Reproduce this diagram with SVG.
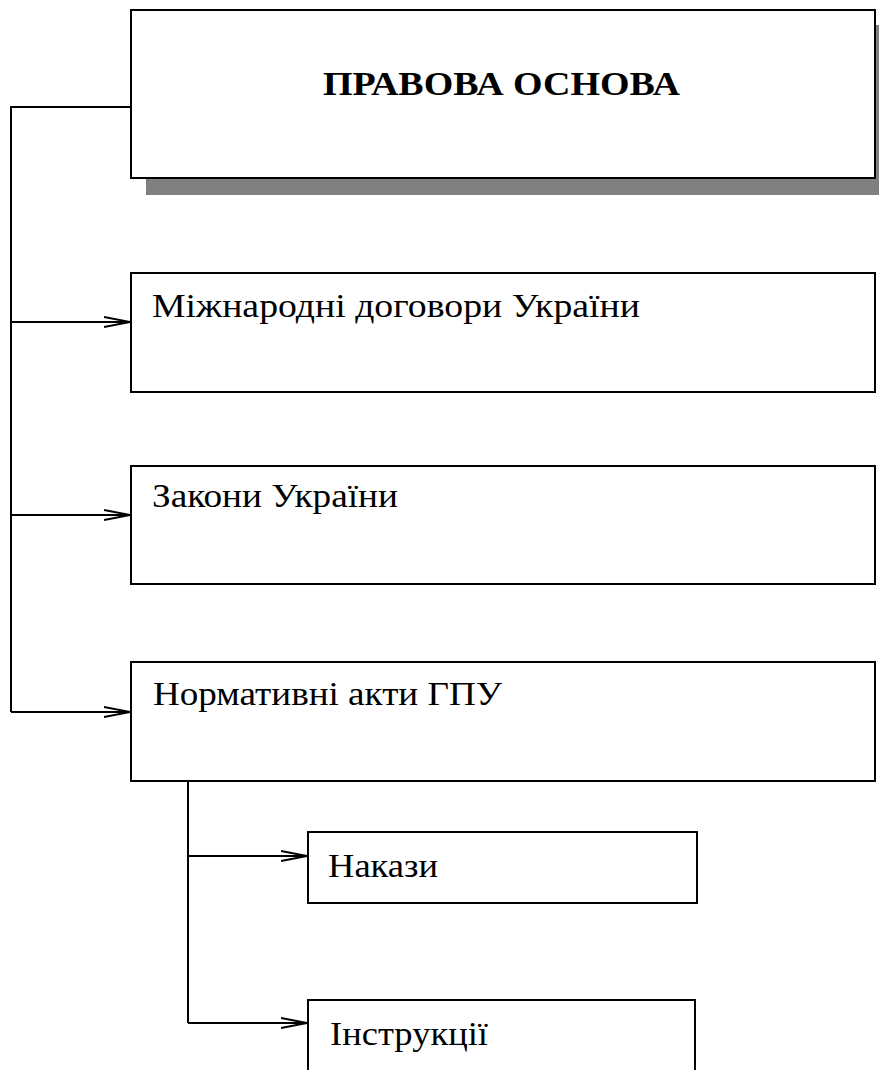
<svg xmlns="http://www.w3.org/2000/svg" width="879" height="1070" viewBox="0 0 879 1070">
<style>
.box{fill:#fff;stroke:#000;stroke-width:2}
.shadow{fill:#808080}
.lbl{font-family:"Liberation Serif","Times New Roman",serif;font-size:34px;fill:#000}
.title{font-family:"Liberation Serif","Times New Roman",serif;font-size:34px;font-weight:bold;fill:#000}
.conn{fill:none;stroke:#000;stroke-width:2}
</style>
<defs>
<marker id="arr" viewBox="0 0 26 12" refX="26" refY="6" markerWidth="26" markerHeight="12" markerUnits="userSpaceOnUse" orient="auto">
<path d="M0,1 L26,6 L0,11 M6,6 L26,6" fill="none" stroke="#000" stroke-width="2"/>
</marker>
</defs>
<rect width="879" height="1070" fill="#fff"/>
<g id="connectors">
<path class="conn" d="M131,107 H11 V712"/>
<path class="conn" d="M11,322 H130" marker-end="url(#arr)"/>
<path class="conn" d="M11,515 H130" marker-end="url(#arr)"/>
<path class="conn" d="M11,712 H130" marker-end="url(#arr)"/>
<path class="conn" d="M188,781 V1023"/>
<path class="conn" d="M188,856 H307" marker-end="url(#arr)"/>
<path class="conn" d="M188,1023 H307" marker-end="url(#arr)"/>
</g>
<g id="node-title">
<rect class="shadow" x="146" y="178" width="733" height="17"/>
<rect class="shadow" x="875" y="25" width="4" height="170"/>
<rect class="box" x="131" y="10" width="744" height="168"/>
<text class="title" x="323" y="95" textLength="357" lengthAdjust="spacingAndGlyphs">ПРАВОВА ОСНОВА</text>
</g>
<g id="node-treaties">
<rect class="box" x="131" y="273" width="744" height="119"/>
<text class="lbl" x="152" y="317" textLength="488" lengthAdjust="spacingAndGlyphs">Міжнародні договори України</text>
</g>
<g id="node-laws">
<rect class="box" x="131" y="466" width="744" height="118"/>
<text class="lbl" x="152" y="507" textLength="246" lengthAdjust="spacingAndGlyphs">Закони України</text>
</g>
<g id="node-acts">
<rect class="box" x="131" y="662" width="744" height="119"/>
<text class="lbl" x="153" y="705" textLength="349" lengthAdjust="spacingAndGlyphs">Нормативні акти ГПУ</text>
</g>
<g id="node-orders">
<rect class="box" x="308" y="832" width="389" height="71"/>
<text class="lbl" x="328" y="877" textLength="110" lengthAdjust="spacingAndGlyphs">Накази</text>
</g>
<g id="node-instructions">
<rect class="box" x="308" y="1000" width="387" height="80"/>
<text class="lbl" x="330" y="1045" textLength="158" lengthAdjust="spacingAndGlyphs">Інструкції</text>
</g>
</svg>
